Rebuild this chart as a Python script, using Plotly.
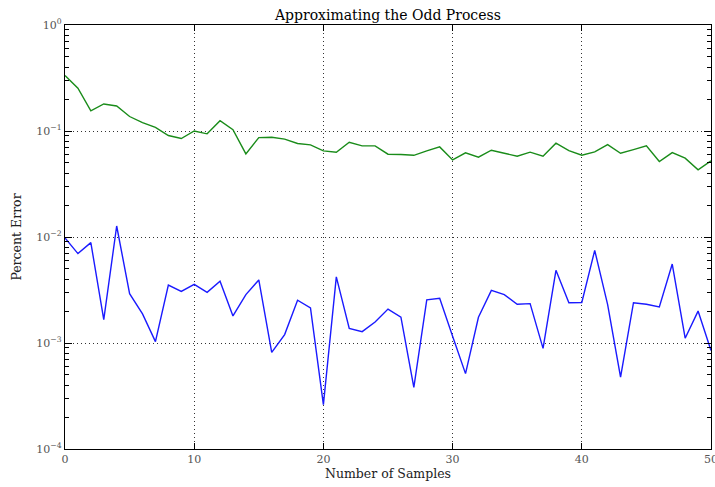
import plotly.graph_objects as go

samples = list(range(51))

green_err = [0.333, 0.253, 0.155, 0.180, 0.172, 0.137, 0.120, 0.108, 0.0906, 0.0849,
             0.100, 0.094, 0.125, 0.103, 0.0608, 0.0867, 0.0874, 0.0838, 0.0762, 0.074,
             0.0649, 0.063, 0.0783, 0.0724, 0.0724, 0.0604, 0.0600, 0.059, 0.0649, 0.0708,
             0.0534, 0.0622, 0.0566, 0.0659, 0.0617, 0.0578, 0.0631, 0.0578, 0.0767, 0.0654,
             0.0591, 0.0636, 0.0745, 0.0617, 0.0668, 0.0724, 0.0515, 0.0626, 0.0554, 0.043,
             0.0523]

blue_err = [0.0098, 0.00697, 0.00885, 0.00166, 0.0127, 0.00292, 0.00188, 0.00103, 0.00352, 0.00307,
            0.00357, 0.00301, 0.00382, 0.0018, 0.00286, 0.00393, 0.000816, 0.0012, 0.00253, 0.00214,
            0.000262, 0.0042, 0.00137, 0.00128, 0.00158, 0.00209, 0.00175, 0.000382, 0.00255, 0.00264,
            0.00116, 0.000514, 0.00175, 0.00314, 0.00286, 0.00232, 0.00235, 0.00089, 0.00485, 0.00240,
            0.00241, 0.00748, 0.0023, 0.000477, 0.0024, 0.00232, 0.00219, 0.00556, 0.00111, 0.002,
            0.00085]

x_ticks = [0, 10, 20, 30, 40, 50]
y_ticks = [1e-4, 1e-3, 1e-2, 1e-1, 1e0]
y_ticktext = ["10<sup>\u22124</sup>", "10<sup>\u22123</sup>", "10<sup>\u22122</sup>",
              "10<sup>\u22121</sup>", "10<sup>0</sup>"]
y_minor = [m * 10.0 ** e for e in range(-4, 0) for m in range(2, 10)]

font_family = "DejaVu Serif"

fig = go.Figure()
fig.add_trace(go.Scatter(x=samples, y=green_err, mode="lines", yaxis="y2",
                         line=dict(color="#1a8c1a", width=1.4), showlegend=False))
fig.add_trace(go.Scatter(x=samples, y=blue_err, mode="lines",
                         line=dict(color="#1a1aff", width=1.4), showlegend=False))

fig.update_layout(
    width=715, height=487,
    margin=dict(l=65, r=4, t=25, b=38),
    paper_bgcolor="white", plot_bgcolor="white",
    title=dict(text="Approximating the Odd Process", x=0.5425, xanchor="center",
               y=0.97, yanchor="middle", font=dict(family=font_family, size=14, color="black")),
    font=dict(family=font_family, color="#444"),
)

fig.update_xaxes(
    range=[0, 50], tickvals=x_ticks, ticktext=[str(v) for v in x_ticks],
    ticks="inside", ticklen=6, tickwidth=1, tickcolor="black",
    showline=True, linecolor="black", linewidth=1.2, mirror="ticks",
    showgrid=True, gridcolor="#333", griddash="1px,3px", gridwidth=0.8,
    zeroline=False, tickfont=dict(size=11, color="#555"), ticklabeloverflow="allow",
    automargin=False,
    title=dict(text="Number of Samples", font=dict(size=12.5, color="#222"), standoff=0),
)

fig.update_layout(yaxis=dict(
    type="log", range=[-4, 0], tickmode="array", tickvals=y_ticks, ticktext=y_ticktext,
    ticks="inside", ticklen=7, tickwidth=1, tickcolor="black",
    showline=True, linecolor="black", linewidth=1.2, mirror="ticks",
    showgrid=True, gridcolor="#333", griddash="1px,3px", gridwidth=0.8,
    zeroline=False, tickfont=dict(size=11, color="#555"), ticklabeloverflow="allow",
    automargin=False,
    title=dict(text="Percent Error", font=dict(size=12.5, color="#222"), standoff=11),
))

# overlay axis carrying the minor log ticks
fig.update_layout(yaxis2=dict(
    type="log", range=[-4, 0], overlaying="y", side="left", anchor="x",
    tickmode="array", tickvals=y_minor, showticklabels=False,
    ticks="inside", ticklen=4, tickwidth=1, tickcolor="black",
    showline=True, linecolor="black", linewidth=1.2, mirror="ticks",
    showgrid=False, zeroline=False, automargin=False,
))

fig.write_html("out.html")
